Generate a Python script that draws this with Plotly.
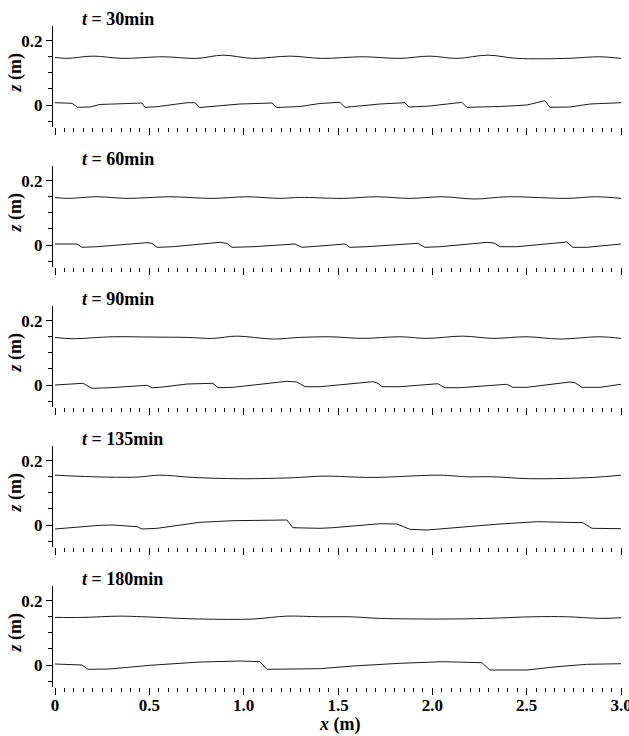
import plotly.graph_objects as go

# ---------------- data (metres) ----------------
times = ["30", "60", "90", "135", "180"]

bed_x_30 = [0, 0.09, 0.12, 0.185, 0.238, 0.435, 0.461, 0.477, 0.541, 0.70, 0.742, 0.768, 0.98, 1.15, 1.176,
            1.298, 1.404, 1.51, 1.537, 1.574, 1.722, 1.855, 1.876, 1.987, 2.157, 2.183, 2.358, 2.501, 2.597,
            2.623, 2.729, 2.835, 3.0]
bed_z_30 = [0.0072, 0.0053, -0.0072, -0.0062, 0.0016, 0.0072, 0.0062, -0.0072, -0.0053, 0.0072, 0.0072,
            -0.0078, 0.0031, 0.0062, -0.0078, -0.0047, 0.0047, 0.0084, -0.0072, -0.0053, 0.0031, 0.0072,
            -0.0062, -0.0031, 0.0084, -0.0072, -0.0047, 0.0, 0.0134, -0.0072, -0.0062, 0.0031, 0.0072]
ws_x_30 = [0, 0.064, 0.201, 0.360, 0.572, 0.753, 0.890, 1.049, 1.245, 1.414, 1.632, 1.828, 1.987, 2.130,
           2.295, 2.448, 2.713, 2.888, 3.0]
ws_z_30 = [0.148, 0.145, 0.152, 0.145, 0.150, 0.145, 0.155, 0.145, 0.152, 0.145, 0.150, 0.145, 0.152, 0.145,
           0.155, 0.145, 0.145, 0.150, 0.145]

bed_x_60 = [0, 0.117, 0.143, 0.223, 0.488, 0.514, 0.541, 0.625, 0.874, 0.911, 0.938, 1.049, 1.272, 1.309,
            1.404, 1.537, 1.563, 1.653, 1.924, 1.961, 2.040, 2.295, 2.332, 2.358, 2.448, 2.713, 2.745, 2.819, 3.0]
bed_z_60 = [0.0031, 0.0031, -0.0072, -0.0053, 0.0072, 0.0053, -0.0072, -0.0053, 0.0084, 0.0053, -0.0072,
            -0.0053, 0.0031, -0.0072, -0.0031, 0.0031, -0.0072, -0.0053, 0.0053, -0.0072, -0.0053, 0.0084,
            0.0053, -0.0053, -0.0053, 0.0093, -0.0072, -0.0072, 0.0031]
ws_x_60 = [0, 0.064, 0.223, 0.382, 0.609, 0.837, 1.017, 1.192, 1.298, 1.526, 1.706, 1.881, 2.056, 2.226,
           2.396, 2.713, 2.872, 3.0]
ws_z_60 = [0.148, 0.145, 0.150, 0.145, 0.150, 0.145, 0.150, 0.145, 0.148, 0.145, 0.150, 0.145, 0.150, 0.143,
           0.150, 0.145, 0.150, 0.145]

bed_x_90 = [0, 0.148, 0.196, 0.291, 0.488, 0.514, 0.556, 0.700, 0.837, 0.864, 0.943, 1.229, 1.282, 1.325,
            1.404, 1.685, 1.712, 1.733, 1.828, 2.029, 2.066, 2.146, 2.395, 2.427, 2.501, 2.729, 2.756, 2.793,
            2.888, 3.0]
bed_z_90 = [0, 0.0053, -0.0103, -0.0084, -0.0009, -0.0084, -0.0072, 0.0031, 0.0053, -0.0084, -0.0072, 0.0115,
            0.0093, -0.0053, -0.0053, 0.0103, 0.0053, -0.0053, -0.0053, 0.0040, -0.0084, -0.0084, 0.0022,
            -0.0072, -0.0072, 0.0093, 0.0072, -0.0072, -0.0072, 0.0022]
ws_x_90 = [0, 0.090, 0.307, 0.519, 0.700, 0.837, 0.964, 1.155, 1.298, 1.457, 1.632, 1.828, 1.971, 2.162,
           2.321, 2.501, 2.676, 2.888, 3.0]
ws_z_90 = [0.148, 0.144, 0.150, 0.149, 0.148, 0.145, 0.152, 0.143, 0.148, 0.150, 0.145, 0.150, 0.145, 0.152,
           0.145, 0.150, 0.143, 0.150, 0.145]

bed_x_135 = [0, 0.238, 0.307, 0.435, 0.461, 0.541, 0.768, 0.943, 1.229, 1.261, 1.404, 1.473, 1.722, 1.812,
             1.881, 1.971, 2.358, 2.554, 2.798, 2.846, 3.0]
bed_z_135 = [-0.0124, -0.0009, 0, -0.0053, -0.0124, -0.0103, 0.0084, 0.0134, 0.0156, -0.0084, -0.0103,
             -0.0084, 0.0040, 0.0031, -0.0134, -0.0156, 0.0031, 0.0103, 0.0072, -0.0103, -0.0115]
ws_x_135 = [0, 0.201, 0.435, 0.556, 0.731, 0.980, 1.261, 1.420, 1.685, 2.040, 2.183, 2.321, 2.517, 2.851, 3.0]
ws_z_135 = [0.155, 0.150, 0.149, 0.155, 0.148, 0.144, 0.147, 0.152, 0.148, 0.155, 0.150, 0.150, 0.144, 0.148,
            0.155]

bed_x_180 = [0, 0.143, 0.175, 0.291, 0.503, 0.768, 0.980, 1.086, 1.123, 1.298, 1.404, 1.579, 1.828, 2.056,
             2.263, 2.305, 2.501, 2.660, 2.819, 3.0]
bed_z_180 = [0.0031, 0, -0.0134, -0.0124, -0.0009, 0.0093, 0.0124, 0.0103, -0.0134, -0.0134, -0.0115,
             -0.0031, 0.0053, 0.0103, 0.0072, -0.0156, -0.0156, -0.0053, 0.0022, 0.0040]
ws_x_180 = [0, 0.148, 0.344, 0.466, 0.768, 1.049, 1.229, 1.404, 1.563, 1.722, 2.040, 2.289, 2.533, 2.713,
            2.888, 3.0]
ws_z_180 = [0.148, 0.148, 0.152, 0.150, 0.143, 0.143, 0.152, 0.150, 0.150, 0.145, 0.143, 0.145, 0.150, 0.150,
            0.145, 0.147]

bed_x = [bed_x_30, bed_x_60, bed_x_90, bed_x_135, bed_x_180]
bed_z = [bed_z_30, bed_z_60, bed_z_90, bed_z_135, bed_z_180]
ws_x = [ws_x_30, ws_x_60, ws_x_90, ws_x_135, ws_x_180]
ws_z = [ws_z_30, ws_z_60, ws_z_90, ws_z_135, ws_z_180]

x_tickvals = [0, 0.25, 0.5, 0.75, 1.0, 1.25, 1.5, 1.75, 2.0, 2.25, 2.5, 2.75, 3.0]
x_ticktext = ["0", "", "0.5", "", "1.0", "", "1.5", "", "2.0", "", "2.5", "", "3.0"]
x_minor = [round(0.05 * i, 2) for i in range(61)]
y_minor = [-0.05, 0.05, 0.10, 0.15]

# ---------------- layout ----------------
W, H = 629, 736
ML, MR, MT, MB = 53, 7, 26, 49
PH = H - MT - MB
PW = W - ML - MR
panel_h, panel_step = 101, 140
FONT = "Liberation Serif"
LC = "#1a1a1a"

fig = go.Figure()
layout = dict(
    width=W, height=H, margin=dict(l=ML, r=MR, t=MT, b=MB, autoexpand=False),
    plot_bgcolor="white", paper_bgcolor="white", showlegend=False,
    font=dict(family=FONT, color="black"),
)
annotations = []
n = len(times)
for k in range(n):
    sfx = "" if k == 0 else str(k + 1)
    top = 1 - (panel_step * k) / PH
    bot = 1 - (panel_step * k + panel_h) / PH
    fig.add_trace(go.Scatter(x=ws_x[k], y=ws_z[k], mode="lines",
                             line=dict(color=LC, width=1, shape="spline", smoothing=1),
                             xaxis="x" + sfx, yaxis="y" + sfx))
    fig.add_trace(go.Scatter(x=bed_x[k], y=bed_z[k], mode="lines",
                             line=dict(color=LC, width=1),
                             xaxis="x" + sfx, yaxis="y" + sfx))
    layout["xaxis" + sfx] = dict(
        domain=[0, 1], anchor="y" + sfx, range=[-0.0106, 3.0053], automargin=False,
        showline=False, showgrid=False, zeroline=False,
        tickmode="array", tickvals=x_tickvals, ticktext=x_ticktext,
        ticks="outside", ticklen=7, tickwidth=1, tickcolor="black",
        showticklabels=(k == n - 1), ticklabelstandoff=-4,
        ticklabeloverflow="allow",
        tickfont=dict(family=FONT, size=17, color="black", weight="bold"),
        minor=dict(tickmode="array", tickvals=x_minor, ticks="outside", ticklen=4,
                   tickwidth=1, tickcolor="black", showgrid=False),
    )
    layout["yaxis" + sfx] = dict(
        domain=[bot, top], anchor="x" + sfx, range=[-0.0684, 0.2457], automargin=False,
        showline=True, linecolor="black", linewidth=1, showgrid=False, zeroline=False,
        tickmode="array", tickvals=[0, 0.2], ticktext=["0", "0.2"],
        ticks="outside", ticklen=6, tickwidth=1, tickcolor="black",
        tickfont=dict(family=FONT, size=17, color="black", weight="bold"),
        minor=dict(tickmode="array", tickvals=y_minor, ticks="outside", ticklen=4,
                   tickwidth=1, tickcolor="black", showgrid=False),
    )
    annotations.append(dict(
        xref="paper", yref="paper", x=(80 - ML) / PW, y=top + 7 / PH,
        xanchor="left", yanchor="middle", showarrow=False,
        text="<b><i>t</i> = " + times[k] + "min</b>",
        font=dict(family=FONT, size=18, color="black")))
    annotations.append(dict(
        xref="paper", yref="paper", x=(15 - ML) / PW, y=(top + bot) / 2 + 4 / PH,
        xanchor="center", yanchor="middle", showarrow=False, textangle=-90,
        text="<b><i>z</i> (m)</b>",
        font=dict(family=FONT, size=18, color="black")))

annotations.append(dict(
    xref="paper", yref="paper", x=(339 - ML) / PW, y=-(724 - MT - PH) / PH,
    xanchor="center", yanchor="middle", showarrow=False,
    text="<b><i>x</i> (m)</b>", font=dict(family=FONT, size=18, color="black")))
layout["annotations"] = annotations
fig.update_layout(**layout)
fig.write_html("out.html")
